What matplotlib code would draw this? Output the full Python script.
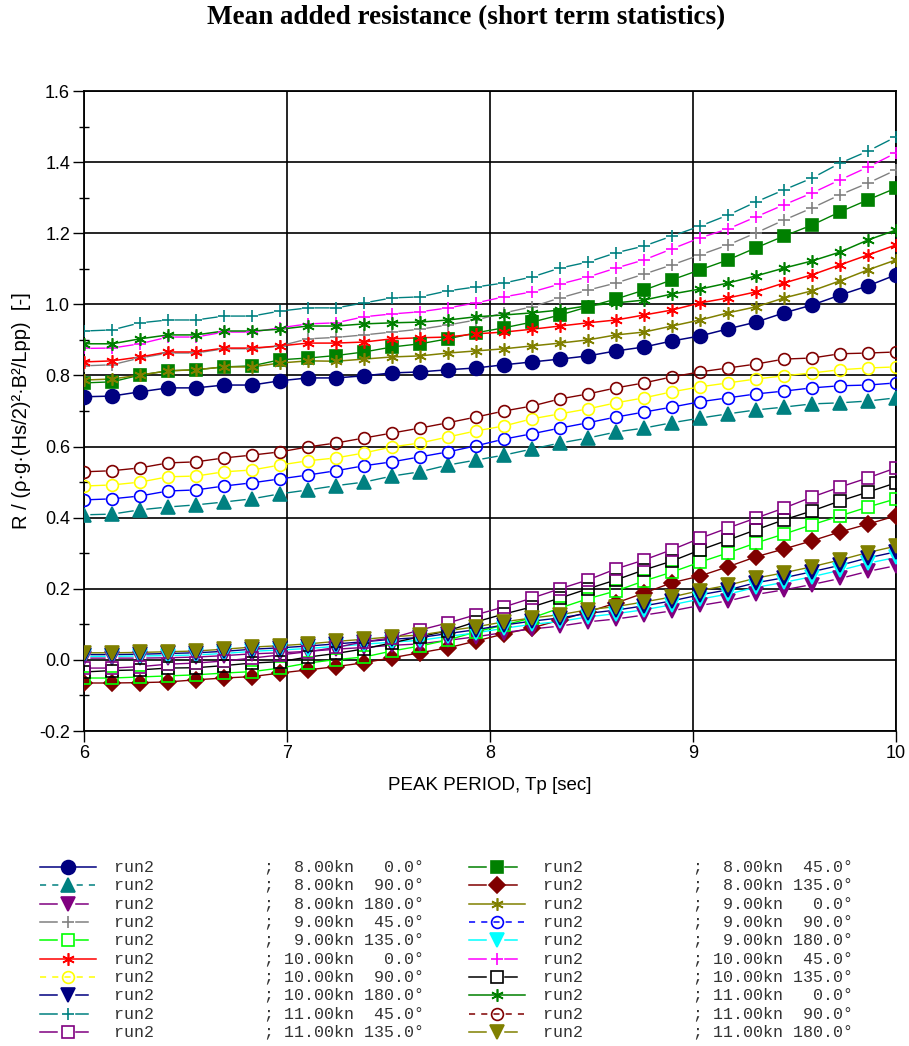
import numpy as np
import matplotlib
matplotlib.use("Agg")
import matplotlib.pyplot as plt
from matplotlib.lines import Line2D
from matplotlib.ticker import MultipleLocator

plt.rcParams['font.family'] = ['Liberation Sans', 'DejaVu Sans']

# peak periods of the short term statistics
tp = np.linspace(6.0, 10.0, 30)

# mean added resistance per speed / heading
r_8kn_000 = [0.740, 0.742, 0.754, 0.765, 0.765, 0.773, 0.773, 0.785, 0.793, 0.793,
             0.799, 0.807, 0.810, 0.816, 0.821, 0.830, 0.838, 0.846, 0.855, 0.869,
             0.880, 0.897, 0.911, 0.931, 0.950, 0.976, 0.998, 1.026, 1.052, 1.083]
r_8kn_045 = [0.779, 0.782, 0.801, 0.813, 0.816, 0.824, 0.827, 0.844, 0.849, 0.856,
             0.866, 0.880, 0.889, 0.903, 0.920, 0.934, 0.950, 0.970, 0.993, 1.015,
             1.040, 1.069, 1.097, 1.125, 1.159, 1.192, 1.223, 1.260, 1.294, 1.327]
r_8kn_090 = [0.408, 0.410, 0.422, 0.430, 0.436, 0.444, 0.453, 0.467, 0.478, 0.490,
             0.500, 0.517, 0.529, 0.548, 0.562, 0.576, 0.593, 0.610, 0.624, 0.641,
             0.652, 0.667, 0.680, 0.692, 0.703, 0.711, 0.720, 0.723, 0.728, 0.737]
r_8kn_135 = [-0.065, -0.065, -0.064, -0.062, -0.056, -0.051, -0.047, -0.037, -0.028, -0.019,
             -0.008, 0.006, 0.020, 0.034, 0.053, 0.073, 0.090, 0.112, 0.135, 0.160,
             0.188, 0.217, 0.236, 0.262, 0.290, 0.312, 0.335, 0.360, 0.382, 0.405]
r_8kn_180 = [0.005, 0.005, 0.005, 0.006, 0.008, 0.012, 0.017, 0.020, 0.024, 0.030,
             0.035, 0.041, 0.045, 0.055, 0.065, 0.077, 0.087, 0.095, 0.107, 0.115,
             0.126, 0.138, 0.153, 0.166, 0.184, 0.197, 0.212, 0.229, 0.249, 0.265]
r_9kn_000 = [0.787, 0.790, 0.801, 0.813, 0.816, 0.824, 0.824, 0.835, 0.841, 0.840,
             0.846, 0.852, 0.855, 0.863, 0.869, 0.875, 0.883, 0.891, 0.900, 0.914,
             0.922, 0.939, 0.956, 0.976, 0.993, 1.018, 1.038, 1.066, 1.097, 1.125]
r_9kn_045 = [0.827, 0.830, 0.849, 0.863, 0.863, 0.875, 0.875, 0.883, 0.903, 0.907,
             0.914, 0.922, 0.930, 0.942, 0.956, 0.976, 0.993, 1.018, 1.040, 1.060,
             1.085, 1.111, 1.139, 1.167, 1.201, 1.237, 1.271, 1.308, 1.341, 1.378]
r_9kn_090 = [0.450, 0.453, 0.461, 0.475, 0.478, 0.489, 0.498, 0.509, 0.520, 0.532,
             0.546, 0.557, 0.571, 0.585, 0.602, 0.621, 0.636, 0.652, 0.667, 0.683,
             0.697, 0.711, 0.726, 0.737, 0.748, 0.756, 0.765, 0.771, 0.773, 0.779]
r_9kn_135 = [-0.051, -0.051, -0.048, -0.045, -0.042, -0.037, -0.033, -0.023, -0.009, 0.001,
             0.008, 0.025, 0.039, 0.056, 0.079, 0.098, 0.118, 0.146, 0.172, 0.194,
             0.222, 0.247, 0.275, 0.301, 0.329, 0.354, 0.380, 0.405, 0.430, 0.453]
r_9kn_180 = [0.010, 0.010, 0.011, 0.012, 0.014, 0.018, 0.024, 0.028, 0.032, 0.038,
             0.044, 0.050, 0.055, 0.066, 0.076, 0.089, 0.100, 0.108, 0.121, 0.130,
             0.141, 0.155, 0.171, 0.185, 0.204, 0.218, 0.234, 0.252, 0.272, 0.288]
r_10kn_000 = [0.838, 0.841, 0.852, 0.866, 0.866, 0.877, 0.877, 0.883, 0.891, 0.891,
              0.894, 0.903, 0.906, 0.908, 0.917, 0.922, 0.930, 0.939, 0.948, 0.956,
              0.970, 0.984, 1.004, 1.018, 1.035, 1.060, 1.083, 1.111, 1.139, 1.167]
r_10kn_045 = [0.876, 0.877, 0.889, 0.908, 0.908, 0.922, 0.922, 0.934, 0.945, 0.948,
              0.965, 0.973, 0.979, 0.990, 1.004, 1.021, 1.035, 1.057, 1.077, 1.102,
              1.125, 1.156, 1.187, 1.212, 1.246, 1.280, 1.313, 1.350, 1.386, 1.426]
r_10kn_090 = [0.489, 0.492, 0.500, 0.515, 0.517, 0.529, 0.534, 0.548, 0.560, 0.568,
              0.582, 0.599, 0.610, 0.627, 0.644, 0.658, 0.678, 0.692, 0.706, 0.723,
              0.737, 0.754, 0.768, 0.779, 0.790, 0.799, 0.807, 0.816, 0.821, 0.824]
r_10kn_135 = [-0.034, -0.030, -0.028, -0.023, -0.022, -0.016, -0.009, -0.005, 0.008, 0.018,
              0.031, 0.048, 0.065, 0.082, 0.107, 0.129, 0.149, 0.174, 0.200, 0.225,
              0.253, 0.278, 0.309, 0.337, 0.366, 0.394, 0.419, 0.447, 0.472, 0.498]
r_10kn_180 = [0.015, 0.015, 0.016, 0.018, 0.020, 0.024, 0.030, 0.034, 0.039, 0.045,
              0.051, 0.058, 0.063, 0.074, 0.085, 0.098, 0.109, 0.118, 0.131, 0.140,
              0.152, 0.166, 0.183, 0.197, 0.217, 0.231, 0.248, 0.266, 0.287, 0.304]
r_11kn_000 = [0.889, 0.889, 0.903, 0.914, 0.914, 0.925, 0.925, 0.930, 0.939, 0.939,
              0.945, 0.948, 0.950, 0.956, 0.965, 0.970, 0.976, 0.984, 0.996, 1.004,
              1.012, 1.029, 1.043, 1.060, 1.080, 1.102, 1.122, 1.147, 1.181, 1.209]
r_11kn_045 = [0.925, 0.928, 0.948, 0.956, 0.956, 0.967, 0.967, 0.981, 0.990, 0.990,
              1.004, 1.018, 1.021, 1.038, 1.049, 1.060, 1.077, 1.102, 1.119, 1.145,
              1.164, 1.192, 1.220, 1.251, 1.288, 1.322, 1.355, 1.397, 1.431, 1.471]
r_11kn_090 = [0.529, 0.532, 0.540, 0.554, 0.557, 0.568, 0.576, 0.585, 0.599, 0.610,
              0.624, 0.638, 0.652, 0.667, 0.683, 0.700, 0.714, 0.734, 0.748, 0.765,
              0.779, 0.796, 0.810, 0.821, 0.832, 0.846, 0.849, 0.861, 0.863, 0.866]
r_11kn_135 = [-0.023, -0.023, -0.019, -0.012, -0.009, -0.003, 0.005, 0.014, 0.023, 0.035,
              0.051, 0.062, 0.084, 0.104, 0.127, 0.149, 0.174, 0.200, 0.225, 0.256,
              0.281, 0.310, 0.342, 0.371, 0.399, 0.427, 0.458, 0.486, 0.512, 0.540]
r_11kn_180 = [0.020, 0.020, 0.021, 0.023, 0.025, 0.030, 0.036, 0.040, 0.045, 0.052,
              0.058, 0.065, 0.070, 0.082, 0.093, 0.107, 0.118, 0.127, 0.141, 0.150,
              0.163, 0.177, 0.195, 0.210, 0.230, 0.245, 0.262, 0.281, 0.302, 0.320]

speeds = [8.0] * 5 + [9.0] * 5 + [10.0] * 5 + [11.0] * 5
headings = [0.0, 45.0, 90.0, 135.0, 180.0] * 4
series = [r_8kn_000, r_8kn_045, r_8kn_090, r_8kn_135, r_8kn_180,
          r_9kn_000, r_9kn_045, r_9kn_090, r_9kn_135, r_9kn_180,
          r_10kn_000, r_10kn_045, r_10kn_090, r_10kn_135, r_10kn_180,
          r_11kn_000, r_11kn_045, r_11kn_090, r_11kn_135, r_11kn_180]

ast = (6, 2, 0)
# colour, marker, size, filled, line kind ('solid' | 'gap' | 'dash')
styles = [
    ('#000080', 'o', 10.0, True, 'solid'),
    ('#008000', 's', 8.0, True, 'gap'),
    ('#008080', '^', 10.5, True, 'dash'),
    ('#800000', 'D', 8.5, True, 'gap'),
    ('#800080', 'v', 10.5, True, 'gap'),
    ('#808000', ast, 9.0, True, 'solid'),
    ('#808080', '+', 8.5, True, 'gap'),
    ('#0000FF', 'o', 8.5, False, 'dash'),
    ('#00FF00', 's', 8.0, False, 'gap'),
    ('#00FFFF', 'v', 10.5, True, 'gap'),
    ('#FF0000', ast, 9.0, True, 'solid'),
    ('#FF00FF', '+', 8.5, True, 'gap'),
    ('#FFFF00', 'o', 8.5, False, 'dash'),
    ('#000000', 's', 8.0, False, 'gap'),
    ('#000080', 'v', 10.5, True, 'gap'),
    ('#008000', ast, 9.0, True, 'solid'),
    ('#008080', '+', 8.5, True, 'gap'),
    ('#800000', 'o', 8.5, False, 'dash'),
    ('#800080', 's', 8.0, False, 'gap'),
    ('#808000', 'v', 10.5, True, 'gap'),
]

W, H = 909, 1046
fig = plt.figure(figsize=(W / 100, H / 100), dpi=100)
ax = fig.add_axes([84 / W, 1 - 731 / H, (896 - 84) / W, (731 - 91) / H])


def marker_kw(color, marker, size, filled):
    kw = dict(marker=marker, markersize=size, markeredgecolor=color, markeredgewidth=1.2)
    kw['markerfacecolor'] = color if filled else 'none'
    return kw


def broken(x, y, f=0.25):
    # line pieces between the points, leaving a gap around every marker
    x = np.asarray(x, float)
    y = np.asarray(y, float)
    xs, ys = [], []
    for i in range(len(x) - 1):
        dx, dy = x[i + 1] - x[i], y[i + 1] - y[i]
        xs += [x[i] + f * dx, x[i] + (1 - f) * dx, np.nan]
        ys += [y[i] + f * dy, y[i] + (1 - f) * dy, np.nan]
    return xs, ys


for vals, (color, marker, size, filled, kind) in zip(series, styles):
    if kind == 'solid':
        ax.plot(tp, vals, color=color, lw=1.1, zorder=3)
    else:
        bx, by = broken(tp, vals)
        ax.plot(bx, by, color=color, lw=1.0, zorder=3)
    ax.plot(tp, vals, ls='none', zorder=4, **marker_kw(color, marker, size, filled))

ax.set_xlim(6, 10)
ax.set_ylim(-0.2, 1.6)
ax.xaxis.set_major_locator(MultipleLocator(1))
ax.yaxis.set_major_locator(MultipleLocator(0.2))
ax.yaxis.set_minor_locator(MultipleLocator(0.1))
ax.yaxis.set_major_formatter(plt.FuncFormatter(lambda v, p: f'{v:.1f}'))
ax.grid(True, which='major', color='black', lw=1.2)
ax.tick_params(which='major', direction='out', length=8, width=1, labelsize=13, pad=2)
ax.tick_params(which='minor', direction='inout', length=7, width=1)
for s in ax.spines.values():
    s.set_linewidth(1.3)
ax.set_xlabel('PEAK PERIOD, Tp [sec]', fontsize=13.5, labelpad=11)
ax.set_ylabel('R / (ρ·g·(Hs/2)²·B²/Lpp)  [-]', fontsize=14.5, labelpad=6)

fig.text(466 / W, 1 - 18 / H, 'Mean added resistance (short term statistics)',
         ha='center', va='center', fontsize=19.5, fontweight='bold',
         family=['Liberation Serif', 'DejaVu Serif'])

# legend: two columns, filled row by row
mono = ['Liberation Mono', 'DejaVu Sans Mono']
for k, (color, marker, size, filled, kind) in enumerate(styles):
    row, col = divmod(k, 2)
    off = 429 * col
    yy = 1 - (867 + 18.33 * row) / H
    tr = fig.transFigure
    if kind == 'solid':
        fig.add_artist(Line2D([(40 + off) / W, (96 + off) / W], [yy, yy], color=color,
                              lw=1.1, transform=tr))
    elif kind == 'dash':
        fig.add_artist(Line2D([(40 + off) / W, (96 + off) / W], [yy, yy], color=color,
                              lw=1.1, transform=tr, dashes=(4, 4)))
    else:
        fig.add_artist(Line2D([(40 + off) / W, (57 + off) / W], [yy, yy], color=color,
                              lw=1.1, transform=tr))
        fig.add_artist(Line2D([(76 + off) / W, (88 + off) / W], [yy, yy], color=color,
                              lw=1.1, transform=tr))
    fig.add_artist(Line2D([(68 + off) / W], [yy], ls='none', transform=tr,
                          **marker_kw(color, marker, size, filled)))
    label = f"run2{' ' * 11}; {speeds[k]:5.2f}kn {headings[k]:5.1f}°"
    fig.text((114 + off) / W, yy, label, ha='left', va='center', fontsize=12,
             family=mono, color='#333333')

fig.savefig('out.png', dpi=100)
